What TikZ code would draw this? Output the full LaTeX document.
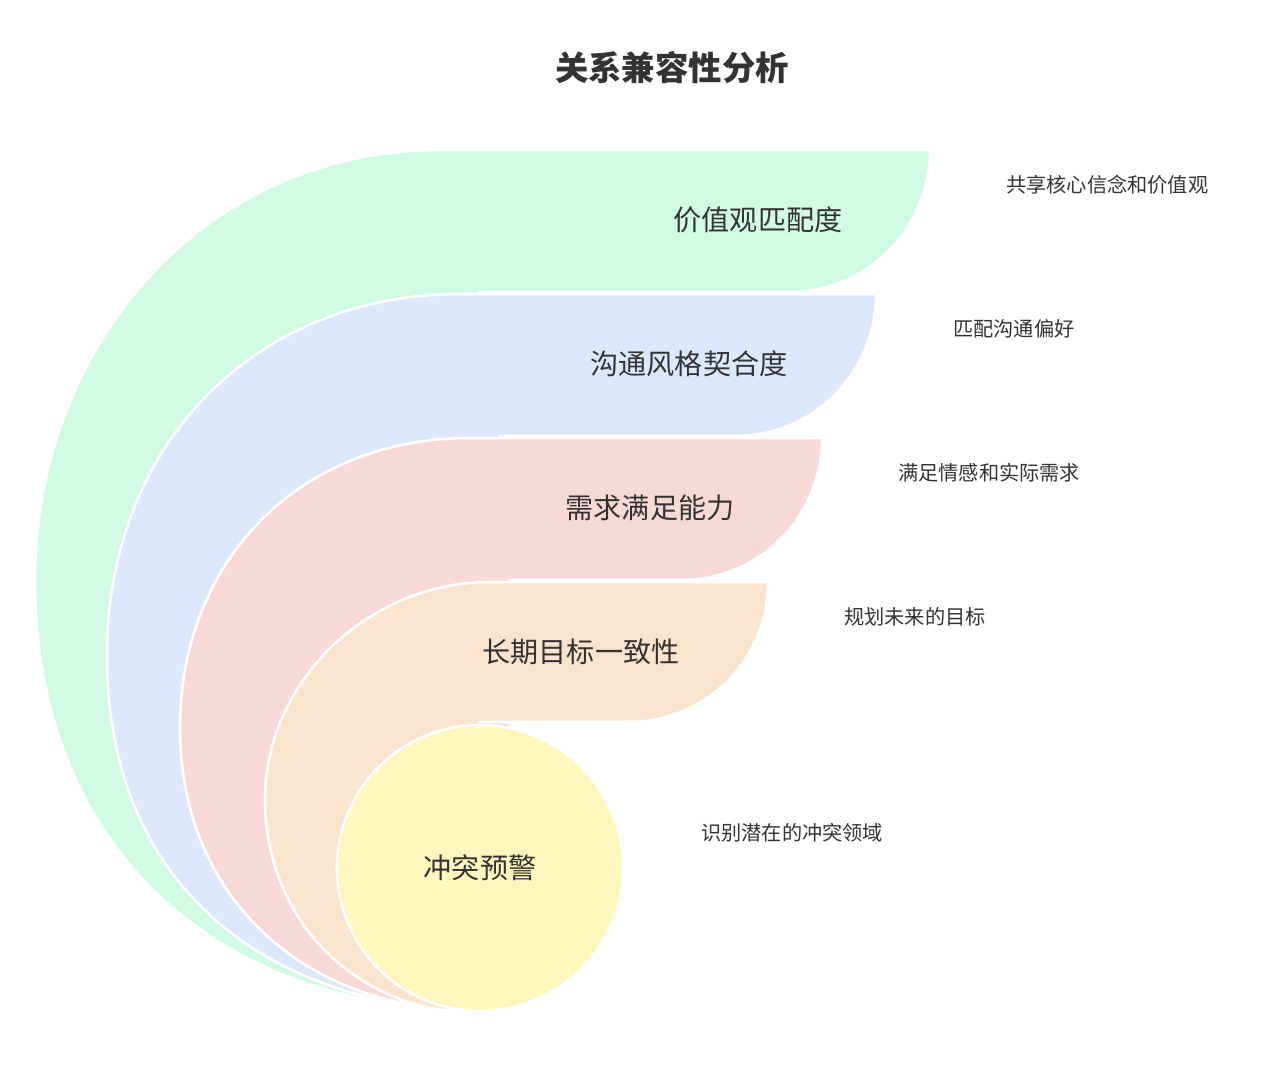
\documentclass[tikz,border=0pt]{standalone}
\usepackage{fontspec}
\setmainfont{Noto Sans CJK SC}
\definecolor{txt}{HTML}{333333}
\definecolor{cvalue}{HTML}{D2FBE6}
\definecolor{ctalk}{HTML}{DEE8FC}
\definecolor{cneed}{HTML}{F8D9D8}
\definecolor{cgoal}{HTML}{FBE4CD}
\definecolor{cwarn}{HTML}{FEF7BD}
\begin{document}
\begin{tikzpicture}[
    x=0.02cm, y=-0.02cm,
    layer/.style={draw=white, line width=1.5pt},
    label/.style={font=\fontsize{16}{18}\selectfont, text=txt},
    desc/.style={font=\fontsize{11.5}{14}\selectfont, text=txt, anchor=west}
]
\useasboundingbox (0,0) rectangle (1262,1068);

% Title
\node[font=\fontsize{19}{22}\selectfont\bfseries, text=txt] (title) at (672,68) {关系兼容性分析};

% Layers, outer first
\fill[layer, fill=cvalue] (440,150) -- (930,150) .. controls (930,228) and (868,292) .. (790,292)
  -- (480,292) -- (480,1005) -- (360,998) .. controls (180,960) and (35,820) .. (35,580)
  .. controls (35,350) and (200,150) .. cycle;
\fill[layer, fill=ctalk] (460,294) -- (876,294) .. controls (876,372) and (814,436) .. (736,436)
  -- (500,436) -- (500,1008) -- (390,1002) .. controls (230,970) and (107,860) .. (107,655)
  .. controls (107,440) and (260,294) .. cycle;
\fill[layer, fill=cneed] (470,438) -- (822,438) .. controls (822,516) and (760,580) .. (682,580)
  -- (510,580) -- (510,1010) -- (420,1006) .. controls (280,985) and (180,880) .. (180,728)
  .. controls (180,560) and (300,438) .. cycle;
\fill[layer, fill=cgoal] (490,582) -- (768,582) .. controls (768,660) and (706,722) .. (628,722)
  -- (480,722) -- (480,1010) -- (440,1010) .. controls (330,990) and (265,900) .. (265,800)
  .. controls (265,680) and (370,582) .. cycle;
\fill[layer, fill=cwarn] (480,868) circle[radius=143];

% Labels
\node[label] (value) at (758,220) {价值观匹配度};
\node[label] (talk) at (689,364) {沟通风格契合度};
\node[label] (need) at (650,508) {需求满足能力};
\node[label] (goal) at (581,652) {长期目标一致性};
\node[label] (warn) at (480,868) {冲突预警};

% Descriptions
\node[desc] (dvalue) at (1000,185) {共享核心信念和价值观};
\node[desc] (dtalk) at (947,329) {匹配沟通偏好};
\node[desc] (dneed) at (892,473) {满足情感和实际需求};
\node[desc] (dgoal) at (838,617) {规划未来的目标};
\node[desc] (dwarn) at (695,833) {识别潜在的冲突领域};

\end{tikzpicture}
\end{document}
